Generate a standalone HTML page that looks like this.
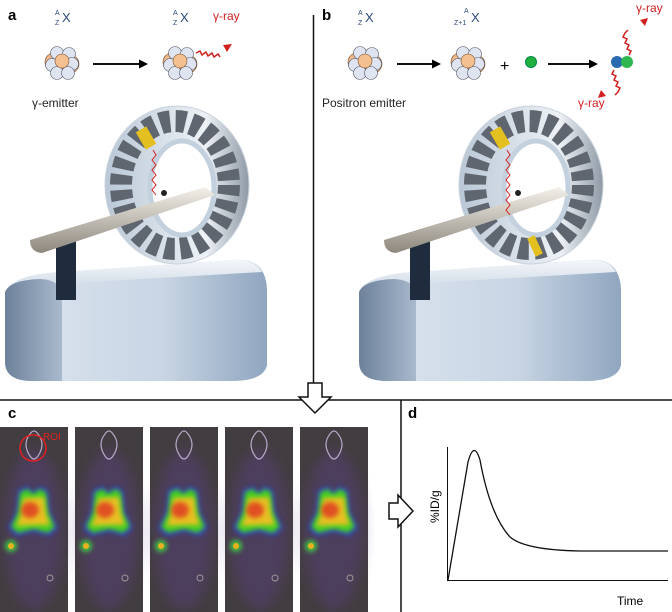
<!DOCTYPE html>
<html><head><style>
html,body{margin:0;padding:0;background:#fff;}
svg{display:block;font-family:"Liberation Sans",sans-serif;}
</style></head><body>
<svg width="672" height="612" viewBox="0 0 672 612" xmlns="http://www.w3.org/2000/svg">
<defs>
<linearGradient id="base" x1="0" y1="0" x2="1" y2="0"><stop offset="0" stop-color="#dde6f0"/><stop offset="0.6" stop-color="#c8d5e4"/><stop offset="1" stop-color="#90a6c0"/></linearGradient>
<linearGradient id="baseL" x1="0" y1="0" x2="1" y2="0"><stop offset="0" stop-color="#6d819b"/><stop offset="1" stop-color="#a9bacd"/></linearGradient>
<linearGradient id="baseT" x1="0" y1="0" x2="0" y2="1"><stop offset="0" stop-color="#f4f7fa"/><stop offset="1" stop-color="#c0cede"/></linearGradient>
<linearGradient id="ringg" x1="0" y1="0" x2="1" y2="0"><stop offset="0" stop-color="#b9c7d6"/><stop offset="0.7" stop-color="#eef2f6"/><stop offset="1" stop-color="#8f9aa6"/></linearGradient>
<linearGradient id="bed" x1="0" y1="0" x2="0" y2="1"><stop offset="0" stop-color="#f4f1ea"/><stop offset="1" stop-color="#8d877c"/></linearGradient>
<filter id="bl" x="-30%" y="-30%" width="160%" height="160%"><feGaussianBlur stdDeviation="2.5"/></filter>
<filter id="bl2" x="-30%" y="-30%" width="160%" height="160%"><feGaussianBlur stdDeviation="6"/></filter>
<g id="scanner">
  <path d="M5 292 Q12 275 60 272 L235 260 Q266 258 267 290 L267 365 Q264 380 235 381 L30 381 Q5 380 5 362 Z" fill="url(#base)"/>
  <path d="M5 292 Q12 275 60 272 L235 260 Q255 259 262 272 L90 282 Q70 284 62 300 L10 300Z" fill="url(#baseT)"/>
  <path d="M5 292 Q10 280 40 279 Q64 280 62 300 L62 381 L30 381 Q5 380 5 362 Z" fill="url(#baseL)"/>
  <rect x="56" y="232" width="20" height="68" fill="#1e2c3e"/>
  <ellipse cx="177" cy="185" rx="72" ry="79" fill="url(#ringg)" stroke="#c9d2dc" stroke-width="1"/>
  <ellipse cx="175" cy="185" rx="54" ry="64" fill="none" stroke="#5f6670" stroke-width="22" stroke-dasharray="10 5.5"/>
  <ellipse cx="182" cy="188" rx="32" ry="47" fill="#fff" stroke="#c3d0de" stroke-width="5"/>
  <path d="M30 240 L205 187 L215 195 L42 253 Q30 252 30 240Z" fill="url(#bed)"/>
</g>
<g id="nuc">
  <circle cx="-8" cy="0" r="9" fill="#f0b888" stroke="#7a5030" stroke-width=".6"/><circle cx="8" cy="2" r="9" fill="#f0b888" stroke="#7a5030" stroke-width=".6"/>
  <circle cx="-5" cy="-9" r="6.5" fill="#dfe5f0" stroke="#556" stroke-width=".6"/><circle cx="7" cy="-8" r="6.5" fill="#dfe5f0" stroke="#556" stroke-width=".6"/>
  <circle cx="-10" cy="3" r="6.5" fill="#dfe5f0" stroke="#556" stroke-width=".6"/><circle cx="10" cy="2" r="6.5" fill="#dfe5f0" stroke="#556" stroke-width=".6"/>
  <circle cx="-5" cy="11" r="6.5" fill="#dfe5f0" stroke="#556" stroke-width=".6"/><circle cx="6" cy="11" r="6.5" fill="#dfe5f0" stroke="#556" stroke-width=".6"/>
  <circle cx="0" cy="-1" r="7" fill="#f5c090" stroke="#7a5030" stroke-width=".6"/>
</g>
<g id="im">
  <rect x="0" y="427" width="68" height="185" fill="#423d40"/>
  <ellipse cx="34" cy="530" rx="30" ry="80" fill="#5a4080" opacity=".45" filter="url(#bl2)"/>
  <path d="M30 434 q4 -6 8 0 q8 10 0 22 q-4 6 -8 0 q-8 -12 0 -22z" fill="none" stroke="#b8a8c8" stroke-width="1.2"/>
  <path d="M18 490 L28 486 L33 492 L40 486 L48 490 L50 512 L58 528 L50 536 L34 532 L16 536 L8 528 L16 512Z" fill="#3040c0" filter="url(#bl)"/>
  <path d="M20 492 L28 489 L33 494 L40 489 L46 492 L48 512 L55 527 L48 533 L34 529 L18 533 L11 527 L18 512Z" fill="#40d020" filter="url(#bl)"/>
  <path d="M23 498 L44 497 L46 514 L50 525 L34 525 L16 526 L22 512Z" fill="#e8c020" filter="url(#bl)"/>
  <ellipse cx="30" cy="510" rx="9" ry="8" fill="#e05020" filter="url(#bl)"/>
  <circle cx="11" cy="546" r="6" fill="#40c040" filter="url(#bl)"/><circle cx="11" cy="546" r="3" fill="#e8b020"/>
  <circle cx="50" cy="578" r="3" fill="none" stroke="#999"/>
</g>
</defs>

<use href="#scanner"/>
<use href="#scanner" transform="translate(354,0)"/>
<rect x="140" y="128" width="12" height="20" fill="#e3c020" transform="rotate(-30 146 138)"/>
<path d="M153 150 l3 5 -4 5 4 5 -4 5 4 5 -4 5 4 5 -4 5 4 5" stroke="#d02020" fill="none"/>
<circle cx="164" cy="193" r="3" fill="#222"/>
<rect x="494" y="128" width="12" height="20" fill="#e3c020" transform="rotate(-30 500 138)"/>
<path d="M507 150 l3 5 -4 5 4 5 -4 5 4 5 -4 5 4 5 -4 5 4 5 -4 5 4 5 -4 5 4 5" stroke="#d02020" fill="none"/>
<circle cx="518" cy="193" r="3" fill="#222"/>
<rect x="531" y="236" width="8" height="20" fill="#e3c020" transform="rotate(-25 535 246)"/>

<text x="8" y="20" font-size="15" font-weight="bold">a</text>
<text x="322" y="20" font-size="15" font-weight="bold">b</text>
<text x="8" y="418" font-size="15" font-weight="bold">c</text>
<text x="408" y="418" font-size="15" font-weight="bold">d</text>

<g fill="#2c4a78" font-size="13"><text x="62" y="22">X</text><text x="180" y="22">X</text><text x="365" y="22">X</text><text x="471" y="22">X</text></g>
<g fill="#2c4a78" font-size="7"><text x="55" y="15">A</text><text x="55" y="25">Z</text><text x="173" y="15">A</text><text x="173" y="25">Z</text><text x="358" y="15">A</text><text x="358" y="25">Z</text><text x="464" y="13">A</text><text x="454" y="25">Z+1</text></g>
<use href="#nuc" transform="translate(62,62)"/>
<use href="#nuc" transform="translate(180,62)"/>
<use href="#nuc" transform="translate(365,62)"/>
<use href="#nuc" transform="translate(468,62)"/>
<line x1="93" y1="64" x2="140" y2="64" stroke="#111" stroke-width="2"/><path d="M148 64 l-9 -4.5 v9z"/>
<line x1="397" y1="64" x2="433" y2="64" stroke="#111" stroke-width="2"/><path d="M441 64 l-9 -4.5 v9z"/>
<line x1="548" y1="64" x2="590" y2="64" stroke="#111" stroke-width="2"/><path d="M598 64 l-9 -4.5 v9z"/>
<text x="500" y="71" font-size="16">+</text>
<circle cx="531" cy="62" r="5.5" fill="#20b040" stroke="#084"/>
<circle cx="617" cy="62" r="6" fill="#2a6ab0"/><circle cx="627" cy="62" r="6" fill="#30b850"/>
<path d="M196 53 l4 -2 2 4 4 -3 2 4 4 -3 2 4 4 -3 2 3" stroke="#d02020" fill="none" stroke-width="1.5"/><path d="M232 44 l-9 1 4 7z" fill="#d02020"/>
<text x="213" y="20" font-size="12" fill="#d02020">γ-ray</text>
<path d="M629 55 l2 -4 -4 -2 2 -4 -4 -2 2 -4 -4 -2 2 -4 3 -3" stroke="#d02020" fill="none" stroke-width="1.5"/><path d="M648 18 l-8 2 5 6z" fill="#d02020"/>
<path d="M614 70 l-2 4 4 2 -2 4 4 2 -2 4 4 2 -2 4 -3 3" stroke="#d02020" fill="none" stroke-width="1.5"/><path d="M598 98 l8 -2 -5 -6z" fill="#d02020"/>
<text x="636" y="12" font-size="12" fill="#d02020">γ-ray</text>
<text x="578" y="107" font-size="12" fill="#d02020">γ-ray</text>
<text x="32" y="107" font-size="12" fill="#222">γ-emitter</text>
<text x="322" y="107" font-size="12" fill="#222">Positron emitter</text>

<line x1="313.5" y1="15" x2="313.5" y2="383" stroke="#111" stroke-width="1.5"/>
<line x1="0" y1="400" x2="672" y2="400" stroke="#111" stroke-width="1.5"/>
<line x1="401" y1="400" x2="401" y2="612" stroke="#111" stroke-width="1.5"/>
<path d="M308 383 h14 v14 h9 l-16 16 l-16 -16 h9 z" fill="#fff" stroke="#111" stroke-width="1.5"/>
<path d="M389 503 h9 v-8 l15 16 l-15 16 v-8 h-9 z" fill="#fff" stroke="#111" stroke-width="1.5"/>

<use href="#im"/>
<use href="#im" transform="translate(75,0)"/>
<use href="#im" transform="translate(150,0)"/>
<use href="#im" transform="translate(225,0)"/>
<use href="#im" transform="translate(300,0)"/>
<ellipse cx="33" cy="448" rx="13" ry="13" fill="none" stroke="#e02020" stroke-width="1.5"/>
<text x="43" y="440" font-size="10" fill="#e02020">ROI</text>

<line x1="447.5" y1="447" x2="447.5" y2="580" stroke="#111"/>
<line x1="447" y1="580.5" x2="668" y2="580.5" stroke="#111"/>
<path d="M448 580 L468 462 Q474 440 480 460 Q490 515 510 537 Q525 550 580 551 L668 551" fill="none" stroke="#111" stroke-width="1.3"/>
<text x="617" y="605" font-size="12">Time</text>
<text transform="translate(439,523) rotate(-90)" font-size="12">%ID/g</text>
</svg>
</body></html>
